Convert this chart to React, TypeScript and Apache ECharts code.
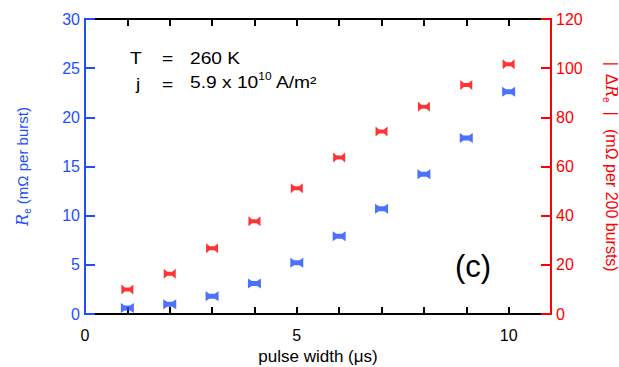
import React, { useEffect, useRef } from "react";
import * as echarts from "echarts";

const pulseWidth = [1, 2, 3, 4, 5, 6, 7, 8, 9, 10];
const reValues = [0.6, 1.0, 1.8, 3.1, 5.2, 7.9, 10.7, 14.2, 17.9, 22.6];
const deltaReValues = [10, 16.4, 26.7, 37.7, 51.2, 63.7, 74.2, 84.3, 93.2, 101.6];
const xLabelsShown = [0, 5, 10];

const BLUE = "#1f4dff";
const RED = "#ff0000";
const FONT = "Liberation Sans, Arial, sans-serif";
const BOWTIE = "path://M0,0 L3.5,3 L8.5,3 L12,0 L12,10 L8.5,7 L3.5,7 L0,10 Z";
const BOWTIE_B = "path://M0,0 L3.5,2.5 L8.5,2.5 L12,0 L12,10 L8.5,7.5 L3.5,7.5 L0,10 Z";

export default function App() {
  const ref = useRef<HTMLDivElement>(null);
  useEffect(() => {
    document.body.style.margin = "0";
    if (!ref.current) return;
    const chart = echarts.init(ref.current, undefined, { renderer: "svg" });
    const xCommon = {
      type: "value" as const,
      min: 0,
      max: 11,
      interval: 1,
      axisLine: { show: true, onZero: false, lineStyle: { color: "#000", width: 2 } },
      axisTick: { show: true, inside: true, length: 7, lineStyle: { color: "#000", width: 2 } },
      splitLine: { show: false },
    };
    const ann = (text: string, x: number, y: number, size = 16, sx = 1.2, extra: any = {}) => ({
      type: "text",
      x,
      y,
      scaleX: sx,
      style: { text, fill: "#000", font: `${size}px ${FONT}`, verticalAlign: "top", ...extra },
    });
    chart.setOption({
      animation: false,
      grid: { left: 85, right: 68, top: 19, bottom: 53, outerBoundsMode: "none", containLabel: false },
      xAxis: [
        {
          ...xCommon,
          position: "bottom",
          name: "pulse width (μs)",
          nameLocation: "middle",
          nameGap: 34,
          nameTextStyle: { color: "#000", fontSize: 17, fontFamily: FONT },
          axisLabel: {
            color: "#000",
            fontSize: 16,
            fontFamily: FONT,
            margin: 13,
            formatter: (v: number) => (xLabelsShown.includes(v) ? String(v) : ""),
          },
          z: 1,
        },
        {
          ...xCommon,
          position: "top",
          axisLabel: { show: false },
          z: 1,
        },
      ],
      yAxis: [
        {
          type: "value",
          position: "left",
          min: 0,
          max: 30,
          interval: 5,
          axisLine: { show: true, onZero: false, lineStyle: { color: BLUE, width: 2 } },
          axisTick: { show: true, inside: true, length: 10, lineStyle: { color: BLUE, width: 2 } },
          splitLine: { show: false },
          axisLabel: { color: BLUE, fontSize: 16, fontFamily: FONT, margin: 5 },
          name: "{i|R}{s|e} (mΩ per burst)",
          nameLocation: "middle",
          nameGap: 53,
          nameTextStyle: {
            color: BLUE,
            fontSize: 15,
            fontFamily: FONT,
            rich: {
              i: { color: BLUE, fontSize: 16, fontStyle: "italic", fontFamily: "DejaVu Serif, serif", lineHeight: 20 },
              s: { color: BLUE, fontSize: 10, fontFamily: FONT, verticalAlign: "bottom", lineHeight: 20 },
            },
          },
          z: 2,
        },
        {
          type: "value",
          position: "right",
          min: 0,
          max: 120,
          interval: 20,
          axisLine: { show: true, onZero: false, lineStyle: { color: RED, width: 2 } },
          axisTick: { show: true, inside: true, length: 10, lineStyle: { color: RED, width: 2 } },
          splitLine: { show: false },
          axisLabel: { color: RED, fontSize: 16, fontFamily: FONT, margin: 5 },
          name: "|  Δ{i|R}{s|e}  |   (mΩ per 200 bursts)",
          nameLocation: "middle",
          nameRotate: -90,
          nameGap: 50,
          nameTextStyle: {
            color: RED,
            fontSize: 16,
            fontFamily: FONT,
            rich: {
              i: { color: RED, fontSize: 16, fontStyle: "italic", fontFamily: "DejaVu Serif, serif", lineHeight: 20 },
              s: { color: RED, fontSize: 10, fontFamily: FONT, verticalAlign: "bottom", lineHeight: 20 },
            },
          },
          z: 2,
        },
      ],
      series: [
        {
          type: "scatter",
          name: "Re",
          xAxisIndex: 0,
          yAxisIndex: 0,
          symbol: BOWTIE_B,
          symbolSize: [13, 10],
          itemStyle: { color: BLUE },
          data: pulseWidth.map((x, i) => [x, reValues[i]]),
          z: 3,
        },
        {
          type: "scatter",
          name: "dRe",
          xAxisIndex: 0,
          yAxisIndex: 1,
          symbol: BOWTIE,
          symbolSize: [12, 10],
          itemStyle: { color: RED },
          data: pulseWidth.map((x, i) => [x, deltaReValues[i]]),
          z: 3,
        },
      ],
      graphic: [
        ann("T", 130, 51),
        ann("=", 162, 51),
        ann("260 K", 190, 51),
        ann("j", 136, 77),
        ann("=", 162, 77),
        ann("5.9 x 10{sup|10} A/m²", 190, 71, 16, 1.2, {
          rich: { sup: { fontSize: 10, fontFamily: FONT, fill: "#000", verticalAlign: "top", lineHeight: 24 } },
          lineHeight: 24,
        }),
        ann("(c)", 455, 251, 31, 1.0),
      ],
    });
    return () => chart.dispose();
  }, []);
  return <div ref={ref} style={{ width: 619, height: 367 }} />;
}
